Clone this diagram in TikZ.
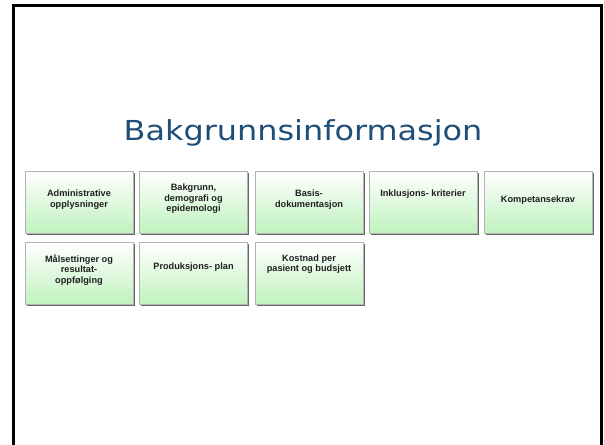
\documentclass[tikz,border=0pt]{standalone}
\usepackage{fontspec}
\setmainfont{Liberation Sans}
\newfontfamily\titlefont[FakeStretch=1.16]{DejaVu Sans}
\usetikzlibrary{shadows}
\definecolor{titleblue}{RGB}{31,78,121}
\definecolor{boxgreen}{RGB}{192,242,190}
\definecolor{boxborder}{RGB}{180,180,180}
\begin{document}
\begin{tikzpicture}[x=1pt,y=-1pt,
  infobox/.style={draw=boxborder, line width=0.8pt, top color=white, bottom color=boxgreen,
    minimum width=108pt, minimum height=62pt, inner sep=0pt,
    drop shadow={shadow xshift=1.6pt, shadow yshift=-1.6pt, fill=black!60, opacity=1}},
  infotext/.style={font=\fontsize{9.2}{10.5}\selectfont\bfseries, align=center, text=black!88, inner sep=0pt},
  frame/.style={line width=3pt, draw=black}]
\useasboundingbox (0,0) rectangle (604,444);
\fill[white] (0,0) rectangle (604,444);
\draw[frame] (13.5,460) -- (13.5,6) -- (601,6) -- (601,460);

\node[anchor=base, text=titleblue, font=\titlefont\fontsize{27.5}{30}\selectfont] (title) at (303,140) {Bakgrunnsinformasjon};

% row 1
\node[infobox] (b1) at (79,202) {};
\node[infobox] (b2) at (193.5,202) {};
\node[infobox] (b3) at (309,202) {};
\node[infobox] (b4) at (423,202) {};
\node[infobox] (b5) at (538,202) {};
% row 2
\node[infobox] (b6) at (79,273.5) {};
\node[infobox] (b7) at (193.5,273.5) {};
\node[infobox] (b8) at (309,273.5) {};

\node[infotext] (t1) at (79,199.5) {Administrative\\opplysninger};
\node[infotext] (t2) at (193.5,198.7) {Bakgrunn,\\demografi og\\epidemologi};
\node[infotext] (t3) at (309,199.5) {Basis-\\dokumentasjon};
\node[infotext] (t4) at (423,194) {Inklusjons- kriterier};
\node[infotext] (t5) at (538,200) {Kompetansekrav};
\node[infotext] (t6) at (79,269.7) {Målsettinger og\\resultat-\\oppfølging};
\node[infotext] (t7) at (193.5,267) {Produksjons- plan};
\node[infotext] (t8) at (309,264) {Kostnad per\\pasient og budsjett};
\end{tikzpicture}
\end{document}
